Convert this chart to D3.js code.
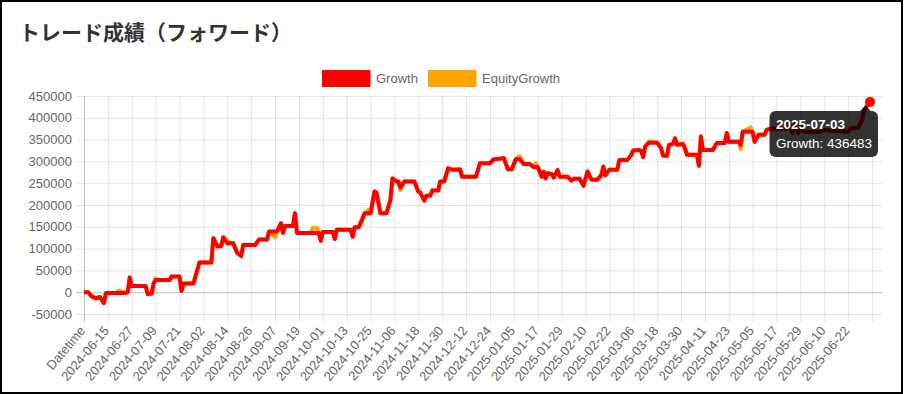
<!DOCTYPE html>
<html><head><meta charset="utf-8">
<script src="https://cdn.jsdelivr.net/npm/d3@7"></script>
<style>
html,body{margin:0;padding:0;background:#fff;}
svg{display:block;}
</style></head><body>
<svg id="c" width="904" height="394"></svg>
<script>
const chartTitle = "トレード成績（フォワード）";
const seriesNames = ["Growth", "EquityGrowth"];
const seriesColors = ["#ff0000", "#ffa500"];
const labelCount = 402;
const tickStep = 12;
const tickLabels = ["Datetime","2024-06-15","2024-06-27","2024-07-09","2024-07-21","2024-08-02","2024-08-14","2024-08-26","2024-09-07","2024-09-19","2024-10-01","2024-10-13","2024-10-25","2024-11-06","2024-11-18","2024-11-30","2024-12-12","2024-12-24","2025-01-05","2025-01-17","2025-01-29","2025-02-10","2025-02-22","2025-03-06","2025-03-18","2025-03-30","2025-04-11","2025-04-23","2025-05-05","2025-05-17","2025-05-29","2025-06-10","2025-06-22",""];
const yTicks = [-50000,0,50000,100000,150000,200000,250000,300000,350000,400000,450000];
const yDomain = [-50000, 450000];

// category index (day) of each sampled point
const dayIndex = [0,2,4,6,8,10,11,16,18,20,22,23,24,31,32,34,35,36,37,43,44,48,49,50,55,56,58,64,65,67,69,70,72,73,75,77,79,80,86,88,92,93,96,97,99,100,101,105,106,107,114,115,117,118,119,120,125,126,127,134,135,136,138,139,141,143,144,146,147,149,152,154,155,157,158,159,161,166,168,169,171,172,174,175,178,179,181,183,185,189,190,197,199,204,206,211,213,215,217,219,221,224,226,227,228,230,231,232,233,235,236,238,239,243,245,246,249,251,253,255,258,260,261,262,264,268,269,273,275,276,279,280,281,282,284,288,290,291,293,294,296,297,298,301,302,303,308,309,310,311,316,318,322,323,324,329,330,331,335,336,337,339,342,343,345,353,354,356,357,359,360,362,370,372,384,385,389,391,392,395];
const growth = [0,0,-10000,-14000,-11000,-25000,-2000,-2000,-2000,-2000,0,34000,14000,14000,-4000,-3000,20000,28000,28000,28000,36000,36000,3000,20000,20000,36000,68000,68000,124000,105000,106000,126000,112000,112000,112000,90000,83000,108000,108000,121000,121000,139000,139000,139000,158000,136000,152000,152000,181000,136000,136000,136000,136000,136000,118000,138000,138000,122000,143000,143000,127000,149000,149000,158000,181000,181000,181000,231000,228000,181000,181000,212000,261000,254000,254000,240000,254000,254000,231000,228000,210000,221000,221000,233000,233000,254000,254000,284000,281000,281000,265000,265000,296000,296000,305000,307000,282000,282000,305000,305000,294000,294000,287000,287000,287000,265000,276000,261000,273000,271000,263000,280000,265000,265000,256000,260000,260000,244000,277000,258000,258000,269000,288000,268000,281000,281000,303000,303000,315000,325000,326000,324000,310000,334000,343000,343000,330000,313000,313000,338000,340000,353000,338000,340000,330000,315000,315000,290000,357000,326000,326000,342000,342000,365000,345000,345000,338000,368000,368000,368000,345000,361000,361000,372000,375000,375000,390000,365000,385000,365000,382000,368000,368000,372000,368000,375000,377000,395000,418000,436483];
const equity = [0,1000,-10000,-14000,-11000,-25000,-2000,-2000,4000,-2000,0,34000,14000,14000,-4000,-3000,20000,32000,28000,28000,36000,36000,3000,20000,20000,36000,68000,68000,124000,105000,106000,126000,118000,112000,112000,90000,83000,108000,108000,121000,121000,139000,126000,139000,158000,136000,152000,152000,181000,136000,136000,148000,148000,136000,118000,138000,138000,122000,143000,143000,127000,149000,149000,158000,181000,189000,181000,231000,228000,181000,181000,212000,261000,254000,254000,234000,254000,254000,231000,228000,210000,221000,221000,233000,233000,254000,254000,284000,281000,283000,265000,265000,296000,296000,305000,307000,282000,282000,305000,312000,294000,294000,287000,296000,287000,265000,276000,261000,273000,271000,263000,280000,265000,265000,256000,260000,260000,244000,277000,258000,258000,269000,288000,268000,281000,281000,303000,303000,315000,325000,326000,324000,310000,334000,346000,343000,330000,313000,313000,338000,340000,353000,338000,340000,330000,315000,315000,290000,357000,326000,326000,342000,342000,365000,345000,345000,328000,368000,378000,368000,345000,361000,361000,372000,375000,375000,390000,365000,385000,365000,382000,368000,368000,372000,368000,375000,377000,395000,418000,435000];
const tooltipTitle = "2025-07-03";
const tooltipBody = "Growth: 436483";

const svg = d3.select("#c");
const L = 84, R = 882, T = 96, B = 314;
const FONT = "'Liberation Sans', Arial, Helvetica, sans-serif";
const x = d3.scaleLinear().domain([0, labelCount - 1]).range([L, R]);
const y = d3.scaleLinear().domain(yDomain).range([B, T]);

// frame
svg.append("rect").attr("x",1).attr("y",1).attr("width",901).attr("height",392)
  .attr("fill","#fff").attr("stroke","#000").attr("stroke-width",2);

// title
svg.append("text").attr("x",19).attr("y",39.5)
  .attr("font-family","'Noto Sans CJK JP', sans-serif").attr("font-weight","bold")
  .attr("font-size",21).attr("fill","#333").text(chartTitle);

// y axis + horizontal grid
const gy = svg.append("g").attr("transform",`translate(${L-8},0)`)
  .call(d3.axisLeft(y).tickValues(yTicks).tickSize(-(R-L+8)).tickPadding(4).tickFormat(d=>String(d)))
  .attr("font-family",FONT).attr("font-size",13);
gy.select(".domain").remove();
gy.selectAll(".tick line").attr("stroke",d=>d===0?"rgba(0,0,0,0.25)":"rgba(0,0,0,0.1)");
gy.selectAll(".tick text").attr("fill","#666");

// x axis + vertical grid
const tickIdx = tickLabels.map((_,i)=>i*tickStep);
const gx = svg.append("g").attr("transform",`translate(0,${B+8})`)
  .call(d3.axisBottom(x).tickValues(tickIdx).tickSize(-(B-T+8)).tickFormat((d,i)=>tickLabels[i]))
  .attr("font-family",FONT).attr("font-size",13);
gx.select(".domain").remove();
gx.selectAll(".tick line").attr("stroke",(d,i)=>i===0?"rgba(0,0,0,0.25)":"rgba(0,0,0,0.1)");
gx.selectAll(".tick text").attr("fill","#666").attr("text-anchor","end")
  .attr("x",0).attr("y",0).attr("dy","0.35em")
  .attr("transform","translate(-2,6) rotate(-50)");

// lines
const pts = (vals)=>dayIndex.map((d,i)=>[d, vals[i]]);
const line = d3.line().x(d=>x(d[0])).y(d=>y(d[1]));
svg.append("path").datum(pts(equity)).attr("d",line)
  .attr("fill","none").attr("stroke",seriesColors[1]).attr("stroke-width",4)
  .attr("stroke-linejoin","round");
svg.append("path").datum(pts(growth)).attr("d",line)
  .attr("fill","none").attr("stroke",seriesColors[0]).attr("stroke-width",4)
  .attr("stroke-linejoin","round");

// hovered point
const lastI = dayIndex.length-1;
svg.append("circle").attr("cx",x(dayIndex[lastI])).attr("cy",y(growth[lastI])).attr("r",5)
  .attr("fill",seriesColors[0]);

// legend
const lg = svg.append("g").attr("font-family",FONT).attr("font-size",13);
const legendX = [322, 428];
seriesNames.forEach((n,i)=>{
  lg.append("rect").attr("x",legendX[i]).attr("y",70).attr("width",48.5).attr("height",17)
    .attr("fill",seriesColors[i]);
  lg.append("text").attr("x",legendX[i]+54).attr("y",83).attr("fill","#666").text(n);
});

// tooltip
const tt = svg.append("g").attr("font-family",FONT);
const px = x(dayIndex[lastI]);
tt.append("path").attr("d",`M${px-10},111 L${px-4.5},105.5 L${px+0.5},111 Z`).attr("fill","rgba(0,0,0,0.8)");
tt.append("rect").attr("x",769.5).attr("y",111).attr("width",108.5).attr("height",46).attr("rx",6)
  .attr("fill","rgba(0,0,0,0.8)");
tt.append("text").attr("x",776).attr("y",128.5).attr("font-size",13.5).attr("font-weight","bold")
  .attr("fill","#fff").text(tooltipTitle);
tt.append("text").attr("x",776).attr("y",148).attr("font-size",13.5)
  .attr("fill","#fff").text(tooltipBody);
</script>
</body></html>
